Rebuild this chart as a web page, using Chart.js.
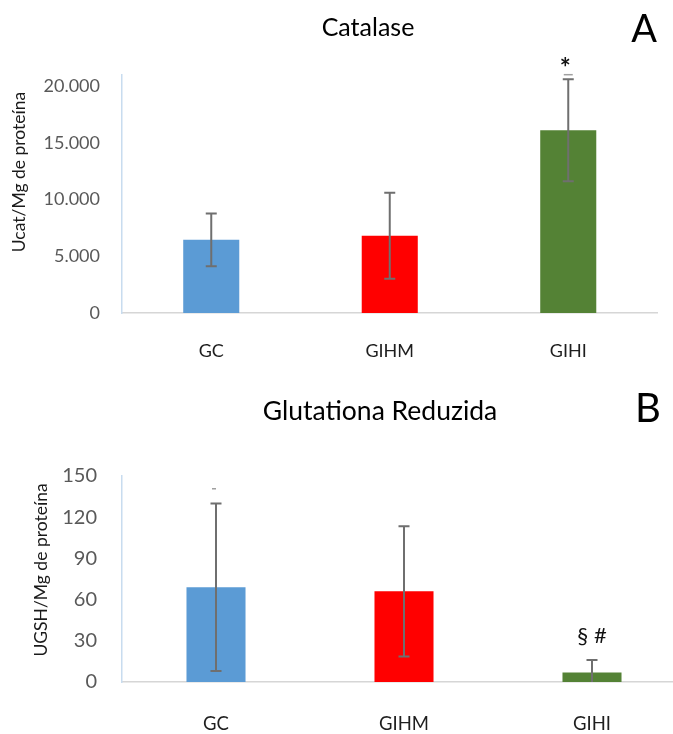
<!DOCTYPE html>
<html>
<head>
<meta charset="utf-8">
<script src="https://cdn.jsdelivr.net/npm/chart.js@4/dist/chart.umd.min.js"></script>
<style>
  html, body { margin: 0; padding: 0; background: #fff; overflow: hidden; width: 673px; height: 734px; }
  #wrap { position: relative; width: 673px; height: 734px; overflow: hidden; }
  canvas { position: absolute; left: 0; }
  #cA { top: 0; }
  #cB { top: 367px; }
</style>
</head>
<body>
<div id="wrap">
  <canvas id="cA" width="673" height="367"></canvas>
  <canvas id="cB" width="700" height="367"></canvas>
</div>
<script>
// ---- data ----
const categories = ['GC', 'GIHM', 'GIHI'];
const barColors = ['#5b9bd5', '#ff0000', '#548235'];

const catalaseMeans = [6460, 6820, 16130];
const catalaseErrors = [2330, 3790, 4500];
const catalaseSig = ['', '', '*'];
const catalaseTickValues = [0, 5000, 10000, 15000, 20000];
const catalaseTickLabels = ['0', '5.000', '10.000', '15.000', '20.000'];

const gshMeans = [69, 66, 7];
const gshErrors = [61, 47.5, 9];
const gshSig = ['', '', '§ #'];
const gshTickValues = [0, 30, 60, 90, 120, 150];
const gshTickLabels = ['0', '30', '60', '90', '120', '150'];

const FONT = 'Lato, "Open Sans", sans-serif';

const errorBarPlugin = {
  id: 'errorBars',
  afterDatasetsDraw(chart, args, opts) {
    const ctx = chart.ctx;
    const y = chart.scales.y;
    const meta = chart.getDatasetMeta(0);
    const area = chart.chartArea;
    ctx.save();
    ctx.beginPath();
    ctx.rect(area.left, area.top - 20, area.right - area.left, area.bottom - area.top + 20);
    ctx.clip();
    ctx.strokeStyle = '#6f6f6f';
    ctx.lineWidth = 2;
    opts.means.forEach((m, i) => {
      const x = meta.data[i].x;
      const top = y.getPixelForValue(m + opts.errors[i]);
      const bot = y.getPixelForValue(m - opts.errors[i]);
      ctx.beginPath();
      ctx.moveTo(x, top); ctx.lineTo(x, bot);
      ctx.moveTo(x - 5.5, top); ctx.lineTo(x + 5.5, top);
      ctx.moveTo(x - 5.5, bot); ctx.lineTo(x + 5.5, bot);
      ctx.stroke();
    });
    ctx.restore();
  }
};

const annotPlugin = {
  id: 'annot',
  afterDraw(chart, args, o) {
    const ctx = chart.ctx;
    const y = chart.scales.y;
    const meta = chart.getDatasetMeta(0);
    ctx.save();
    ctx.fillStyle = '#000';
    ctx.textAlign = 'center';
    ctx.textBaseline = 'middle';
    ctx.font = o.titleFont;
    ctx.fillText(o.title, o.titleX, o.titleY);
    ctx.font = o.letterFont;
    ctx.fillText(o.letter, o.letterX, o.letterY);
    // y axis title
    ctx.save();
    ctx.translate(o.yTitleX, o.yTitleY);
    ctx.rotate(-Math.PI / 2);
    ctx.font = o.yTitleFont;
    ctx.fillStyle = '#1a1a1a';
    ctx.fillText(o.yTitle, 0, 0);
    ctx.restore();
    // significance markers
    ctx.font = o.sigFont;
    ctx.fillStyle = '#111';
    o.sig.forEach((s, i) => {
      if (!s) return;
      const x = meta.data[i].x;
      const top = y.getPixelForValue(o.means[i] + o.errors[i]);
      ctx.fillText(s, x + (o.sigDx || 0), top - o.sigOffset);
    });
    // faint residual dash seen above some caps
    if (o.dash) {
      const d = o.dash;
      const x = meta.data[d.index].x;
      const top = y.getPixelForValue(o.means[d.index] + o.errors[d.index]);
      ctx.strokeStyle = '#a0a0a0';
      ctx.lineWidth = 1.5;
      ctx.beginPath();
      ctx.moveTo(x - d.half + (d.dx || 0), top - d.offset);
      ctx.lineTo(x + d.half + (d.dx || 0), top - d.offset);
      ctx.stroke();
    }
    ctx.restore();
  }
};

function makeChart(id, cfg) {
  return new Chart(document.getElementById(id), {
    type: 'bar',
    data: {
      labels: categories,
      datasets: [{
        data: cfg.means,
        backgroundColor: barColors,
        borderWidth: 0,
        barPercentage: 0.314,
        categoryPercentage: 1
      }]
    },
    options: {
      responsive: false,
      animation: false,
      devicePixelRatio: 1,
      layout: { padding: { top: cfg.padTop, right: cfg.padRight, left: 0, bottom: 0 } },
      plugins: {
        legend: { display: false },
        tooltip: { enabled: false },
        errorBars: { means: cfg.means, errors: cfg.errors },
        annot: Object.assign({ means: cfg.means, errors: cfg.errors, sig: cfg.sig }, cfg.annot)
      },
      scales: {
        x: {
          grid: { display: false, drawTicks: false },
          border: { display: true, color: '#d6d6d6', width: 1.5 },
          ticks: { color: '#1e1e1e', font: { family: FONT, size: cfg.xFont }, padding: cfg.xPad },
          afterFit(s) { s.height = cfg.xHeight; }
        },
        y: {
          min: 0,
          max: cfg.yMax,
          grid: { display: false, drawTicks: false },
          border: { display: true, color: '#c8dcef', width: 1.5 },
          afterBuildTicks(s) { s.ticks = cfg.tickValues.map(v => ({ value: v })); },
          ticks: {
            color: '#595959',
            font: { family: FONT, size: cfg.yFont },
            padding: cfg.yPad,
            callback: (v) => cfg.tickLabels[cfg.tickValues.indexOf(v)]
          },
          afterFit(s) { s.width = 122; }
        }
      }
    },
    plugins: [errorBarPlugin, annotPlugin]
  });
}

makeChart('cA', {
  means: catalaseMeans, errors: catalaseErrors, sig: catalaseSig,
  tickValues: catalaseTickValues, tickLabels: catalaseTickLabels,
  yMax: 21000, padTop: 75, padRight: 15.5, xHeight: 54, xPad: 27, xFont: 18, yFont: 18, yPad: 22,
  annot: {
    title: 'Catalase', titleX: 368, titleY: 28, titleFont: '25px ' + FONT,
    letter: 'A', letterX: 644, letterY: 30, letterFont: '38px ' + FONT,
    yTitle: 'Ucat/Mg de proteína', yTitleX: 19, yTitleY: 172, yTitleFont: '17.5px ' + FONT,
    sigFont: 'bold 26px ' + FONT, sigOffset: 11, sigDx: -3,
    dash: { index: 2, half: 4.5, offset: 4.5 }
  }
});

makeChart('cB', {
  means: gshMeans, errors: gshErrors, sig: gshSig,
  tickValues: gshTickValues, tickLabels: gshTickLabels,
  yMax: 150, padTop: 109, padRight: 14, xHeight: 52, xPad: 31, xFont: 18.5, yFont: 20, yPad: 25,
  annot: {
    title: 'Glutationa Reduzida', titleX: 380, titleY: 44, titleFont: '26.5px ' + FONT,
    letter: 'B', letterX: 648, letterY: 42, letterFont: '40px ' + FONT,
    yTitle: 'UGSH/Mg de proteína', yTitleX: 41, yTitleY: 203, yTitleFont: '17.5px ' + FONT,
    sigFont: '22px ' + FONT, sigOffset: 24, sigDx: 0,
    dash: { index: 0, half: 2, offset: 14.7, dx: -2 }
  }
});
</script>
</body>
</html>
